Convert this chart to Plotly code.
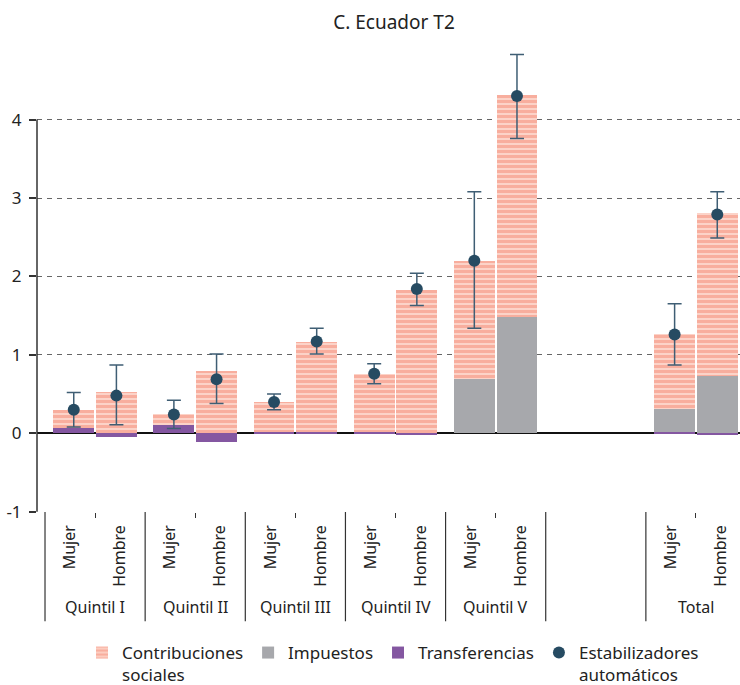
import numpy as np
import plotly.graph_objects as go

# ---------------- data ----------------
groups = ["Quintil I", "Quintil II", "Quintil III", "Quintil IV", "Quintil V", "", "Total"]
sexes = ["Mujer", "Hombre"]

contribuciones = [0.23, 0.53, 0.14, 0.79, 0.39, 1.15, 0.75, 1.83, 1.51, 2.83, None, None, 0.95, 2.08]
impuestos      = [0.00, 0.00, 0.00, 0.00, 0.00, 0.00, 0.00, 0.00, 0.69, 1.48, None, None, 0.29, 0.73]
transferencias = [0.07, -0.05, 0.10, -0.11, 0.01, 0.01, 0.01, -0.01, 0.00, 0.00, None, None, 0.02, -0.01]
estabilizadores = [0.30, 0.48, 0.24, 0.69, 0.40, 1.17, 0.76, 1.84, 2.20, 4.30, None, None, 1.26, 2.79]
ic_superior = [0.52, 0.87, 0.42, 1.01, 0.50, 1.34, 0.885, 2.04, 3.08, 4.83, None, None, 1.65, 3.08]
ic_inferior = [0.08, 0.11, 0.06, 0.38, 0.30, 1.01, 0.63, 1.63, 1.34, 3.76, None, None, 0.87, 2.49]

y_ticks = [-1, 0, 1, 2, 3, 4]
y_ticktext = ["-1", "0", "1", "2", "3", "4"]

# ---------------- layout helpers ----------------
n = len(groups) * len(sexes)
idx = np.arange(n)
g_idx = idx // 2
s_idx = idx % 2
shift = 0.074
xpos = 2 * g_idx + np.where(s_idx == 0, shift, 1 - shift)
tick_text = [("" if groups[g] == "" else sexes[s]) for g, s in zip(g_idx, s_idx)]

err_plus = [None if (h is None or e is None) else h - e for h, e in zip(ic_superior, estabilizadores)]
err_minus = [None if (l is None or e is None) else e - l for l, e in zip(ic_inferior, estabilizadores)]

FONT = "Noto Sans"
TXT = "#222222"
BAR_W = 0.815

fig = go.Figure()
fig.add_trace(go.Bar(
    name="Transferencias", x=xpos, y=transferencias, width=BAR_W,
    marker=dict(color="#8457A1", line_width=0), legendrank=3,
))
fig.add_trace(go.Bar(
    name="Impuestos", x=xpos, y=impuestos, width=BAR_W,
    marker=dict(color="#A7A8AC", line_width=0), legendrank=2,
))
fig.add_trace(go.Bar(
    name="Contribuciones<br>sociales", x=xpos, y=contribuciones, width=BAR_W,
    marker=dict(color="#F4846E", line_width=0,
                pattern=dict(shape="-", fgcolor="#F4846E", bgcolor="#FDD9CE",
                             size=5, solidity=0.65)),
    legendrank=1,
))
fig.add_trace(go.Scatter(
    name="Estabilizadores<br>automáticos", x=xpos, y=estabilizadores, mode="markers",
    marker=dict(color="#264B62", size=12),
    error_y=dict(type="data", array=err_plus, arrayminus=err_minus,
                 color="#3F5E74", thickness=1.5, width=7),
    legendrank=4,
))

# group labels and dividers
for g, name in enumerate(groups):
    if name:
        fig.add_annotation(x=2 * g + 0.5, y=-0.205, xref="x", yref="paper",
                           text=name, showarrow=False, yanchor="middle",
                           font=dict(family=FONT, size=16, color=TXT))
for g in range(len(groups)):
    b = 2 * g - 0.5
    fig.add_shape(type="line", xref="x", yref="paper", x0=b, x1=b, y0=0, y1=-0.236,
                  line=dict(color="#333333", width=1.2))

# y axis line only from -1 to 4
fig.add_shape(type="line", xref="paper", yref="y", x0=0, x1=0, y0=y_ticks[0], y1=y_ticks[-1],
              line=dict(color="#333333", width=1.5))

fig.update_layout(
    width=740, height=685,
    margin=dict(l=37, r=0, t=49, b=173, autoexpand=False),
    barmode="relative", bargap=0,
    plot_bgcolor="white", paper_bgcolor="white",
    font=dict(family=FONT, size=16, color=TXT),
    title=dict(text="C. Ecuador T2", x=394 / 740, xref="container", xanchor="center",
               y=1 - 22 / 685, yref="container", yanchor="middle",
               font=dict(family=FONT, size=19, color=TXT)),
    showlegend=True,
    legend=dict(orientation="h", x=82 / 740, xanchor="left", xref="container",
                y=1 - 635 / 685, yanchor="top", yref="container",
                valign="top", font=dict(family=FONT, size=17, color=TXT),
                bgcolor="rgba(0,0,0,0)"),
)
fig.update_xaxes(
    range=[-0.66, 13.38], tickmode="array", tickvals=idx, ticktext=tick_text,
    tickangle=-90, ticks="", showgrid=False, zeroline=False, showline=False,
    automargin=False, ticklabelstandoff=9,
    tickfont=dict(family=FONT, size=16, color=TXT),
    minor=dict(tickmode="array", tickvals=[0.5, 2.5, 4.5, 6.5, 8.5, 12.5],
               ticks="outside", ticklen=5, tickcolor="#333333", tickwidth=1.2),
)
fig.update_yaxes(
    range=[-1.004, 4.9], tickmode="array", tickvals=y_ticks, ticktext=y_ticktext,
    ticks="outside", ticklen=7, tickcolor="#333333", tickwidth=1.5,
    showline=False, automargin=False, ticklabelstandoff=4,
    showgrid=True, gridcolor="#666666", griddash="5px,5px", gridwidth=1,
    zeroline=True, zerolinecolor="#111111", zerolinewidth=2,
    tickfont=dict(family=FONT, size=17, color=TXT),
)

fig.write_html("out.html", config={"displayModeBar": False},
               post_script="document.body.style.margin='0';")
